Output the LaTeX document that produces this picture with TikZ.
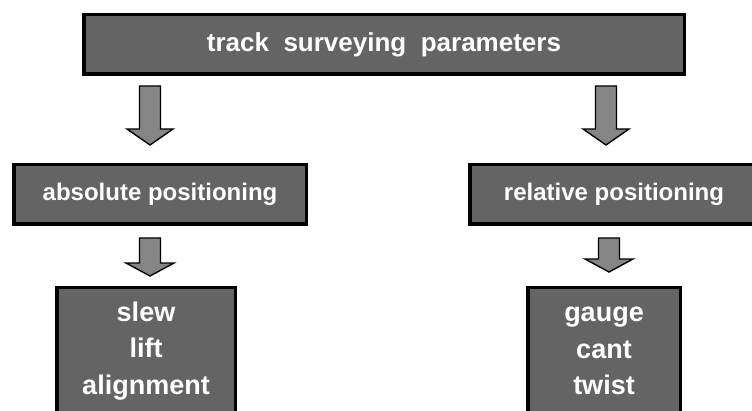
\documentclass[tikz,border=0pt]{standalone}
\usepackage{fontspec}
\setmainfont{Liberation Sans}
\usetikzlibrary{calc}
\definecolor{slate}{HTML}{646464}
\definecolor{pewter}{HTML}{858585}

\tikzset{
  panel/.style={draw=black,line width=3.5pt,fill=slate,text=white,
    inner sep=0pt,align=center},
  chute/.style n args={3}{draw=black,line width=1.4pt,fill=pewter,
    to path={($(\tikztostart)+(-#1,0)$) -- ($(\tikztotarget)+(-#1,#3)$)
      -- ($(\tikztotarget)+(-#2,#3)$) -- (\tikztotarget)
      -- ($(\tikztotarget)+(#2,#3)$) -- ($(\tikztotarget)+(#1,#3)$)
      -- ($(\tikztostart)+(#1,0)$) -- cycle}}
}

\begin{document}
\begin{tikzpicture}[x=1pt,y=1pt]
  \useasboundingbox (0,0) rectangle (752,410);

  % boxes
  \node[panel,minimum width=600.5pt,minimum height=59.5pt,
    font=\fontsize{26}{30}\selectfont\bfseries] (params) at (384,365.5)
    {track~~surveying~~parameters};
  \node[panel,minimum width=292.5pt,minimum height=59.5pt,
    font=\fontsize{24}{28}\selectfont\bfseries] (absolute) at (160,215.5)
    {absolute positioning};
  \node[panel,minimum width=288.5pt,minimum height=59.5pt,
    font=\fontsize{24}{28}\selectfont\bfseries] (relative) at (614,215.5)
    {relative positioning};
  \node[panel,minimum width=178.5pt,minimum height=127pt,
    font=\fontsize{27}{36.5}\selectfont\bfseries] (absvals) at (146,59)
    {slew\\lift\\alignment};
  \node[panel,minimum width=152.5pt,minimum height=127pt,
    font=\fontsize{27}{36.5}\selectfont\bfseries] (relvals) at (604,59)
    {gauge\\cant\\twist};

  % arrow ends
  \coordinate (absin) at (150,324);
  \coordinate (abstip) at (150,265);
  \coordinate (relin) at (606,324);
  \coordinate (reltip) at (606,265);
  \coordinate (absout) at (150,172);
  \coordinate (absdown) at (150,134);
  \coordinate (relout) at (609,172);
  \coordinate (reldown) at (609,138);

  \draw[chute={10.5}{23}{16}] (absin) to (abstip);
  \draw[chute={10.5}{23}{16}] (relin) to (reltip);
  \draw[chute={10.5}{24}{13}] (absout) to (absdown);
  \draw[chute={10.5}{24}{13}] (relout) to (reldown);
\end{tikzpicture}
\end{document}
